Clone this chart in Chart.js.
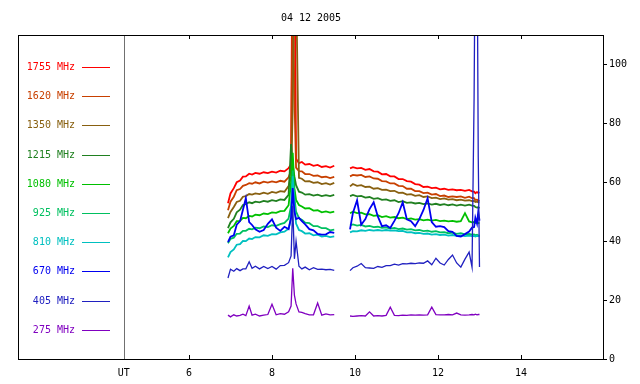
<!DOCTYPE html>
<html>
<head>
<meta charset="utf-8">
<script src="https://cdn.jsdelivr.net/npm/chart.js@4/dist/chart.umd.min.js"></script>
<style>
  html, body { margin: 0; padding: 0; background: #fff; }
  #wrap { width: 640px; height: 384px; }
</style>
</head>
<body>
<div id="wrap"><canvas id="radioChart" width="640" height="384"></canvas></div>
<script>
// tiempos (UT, horas) compartidos por todas las series; null = hueco
const times = [6.94, 7.0, 7.08, 7.15, 7.23, 7.3, 7.37, 7.45, 7.52, 7.6, 7.7, 7.8, 7.9, 8.0, 8.1, 8.2, 8.3, 8.4, 8.46, 8.5, 8.54, 8.58, 8.65, 8.72, 8.8, 8.9, 9.0, 9.1, 9.2, 9.3, 9.4, 9.5,
  9.7,
  9.88, 9.95, 10.05, 10.15, 10.25, 10.35, 10.45, 10.55, 10.65, 10.75, 10.85, 10.95, 11.05, 11.15, 11.25, 11.35, 11.45, 11.55, 11.65, 11.75, 11.85, 11.95, 12.05, 12.15, 12.25, 12.35, 12.45, 12.55, 12.65, 12.75, 12.82, 12.87, 12.9, 12.94, 12.97, 13.0];

const s1755 = [52.9, 56.2, 58.0, 60.0, 60.6, 61.9, 62.0, 62.9, 62.6, 63.2, 62.9, 63.4, 63.1, 63.6, 63.3, 63.9, 63.7, 64.8, 66, 160, 150, 68, 66.5, 66.9, 66.0, 66.2, 65.6, 65.9, 65.2, 65.5, 65.0, 65.6,
  null,
  64.7, 65.1, 64.7, 64.9, 64.2, 64.5, 63.7, 63.6, 62.7, 62.8, 62.0, 62.0, 61.1, 61.1, 60.4, 60.2, 59.4, 59.2, 58.4, 58.5, 58.0, 58.2, 57.6, 57.8, 57.4, 57.6, 57.3, 57.4, 57.1, 57.4, 56.9, 56.8, 56.3, 56.7, 56.4, 56.6];
const s1620 = [50.5, 53.4, 55.1, 57.3, 57.7, 58.8, 59.1, 59.7, 59.5, 60.0, 59.6, 60.2, 59.9, 60.3, 60.0, 60.5, 60.2, 61.7, 64, 130, 90, 65, 63.8, 63.7, 62.8, 62.8, 62.2, 62.3, 61.7, 61.9, 61.4, 61.8,
  null,
  62.0, 62.5, 62.3, 62.5, 61.8, 62.0, 61.3, 61.2, 60.4, 60.3, 59.6, 59.6, 58.8, 58.7, 57.8, 57.8, 57.0, 57.0, 56.3, 56.5, 55.8, 56.0, 55.3, 55.5, 55.0, 55.2, 55.0, 55.2, 54.7, 55.1, 54.6, 54.6, 54.0, 54.1, 53.8, 53.6];
const s1350 = [47.8, 49.9, 51.6, 53.3, 53.7, 55.1, 55.3, 56.0, 55.8, 56.2, 56.0, 56.5, 56.1, 56.7, 56.4, 57.0, 56.8, 58.7, 62, 85, 140, 130, 61.5, 61.2, 60.3, 60.4, 59.8, 60.0, 59.4, 59.7, 59.2, 59.8,
  null,
  58.6, 59.4, 58.8, 59.0, 58.4, 58.5, 57.8, 58.0, 57.4, 57.5, 57.0, 57.1, 56.4, 56.5, 55.8, 56.0, 55.4, 55.6, 55.0, 55.2, 54.6, 54.8, 54.3, 54.5, 54.1, 54.3, 53.9, 54.1, 53.8, 53.9, 53.6, 53.7, 53.3, 53.4, 53.2, 53.2];
const s1215 = [44.4, 46.4, 47.6, 49.8, 50.7, 52.3, 52.6, 53.2, 52.9, 53.4, 53.2, 53.7, 53.4, 53.9, 53.6, 54.2, 54.0, 55.7, 73, 66, 62, 59, 56.8, 56.5, 55.8, 56.0, 55.5, 55.8, 55.3, 55.6, 55.3, 55.7,
  null,
  55.3, 55.7, 55.2, 55.4, 54.8, 55.0, 54.4, 54.6, 54.0, 54.2, 53.7, 53.9, 53.3, 53.6, 53.0, 53.2, 52.8, 53.0, 52.6, 52.8, 52.4, 52.7, 52.3, 52.6, 52.2, 52.5, 52.1, 52.4, 52.1, 52.4, 52.1, 52.0, 51.6, 51.4, 51.5, 51.2];
const s1080 = [42.7, 44.3, 45.2, 46.8, 46.9, 47.9, 47.8, 48.6, 48.4, 49.0, 48.8, 49.4, 49.2, 49.8, 49.6, 50.2, 50.3, 52.2, 60, 70, 58, 54, 52.3, 51.8, 51.1, 51.2, 50.4, 50.5, 49.8, 50.1, 49.7, 50.0,
  null,
  49.5, 50.0, 49.5, 49.7, 49.1, 49.2, 48.6, 48.8, 48.2, 48.5, 48.0, 48.2, 47.8, 48.0, 47.5, 47.7, 47.3, 47.5, 47.1, 47.3, 47.0, 47.2, 46.8, 47.0, 46.7, 46.9, 46.6, 46.8, 49.5, 46.7, 46.4, 46.5, 46.2, 46.4, 46.1, 46.2];
const s925 = [39.3, 40.8, 41.2, 42.5, 42.6, 43.5, 43.5, 44.2, 44.0, 44.6, 44.4, 45.0, 44.8, 45.4, 45.2, 45.8, 46.2, 47.7, 52, 64, 55, 50, 47.8, 47.3, 46.3, 46.1, 45.1, 45.1, 44.4, 44.4, 43.7, 43.9,
  null,
  45.4, 45.7, 45.3, 45.5, 45.0, 45.2, 44.8, 44.9, 44.5, 44.7, 44.3, 44.5, 44.1, 44.3, 43.9, 44.1, 43.7, 43.8, 43.4, 43.6, 43.2, 43.4, 43.0, 43.1, 42.7, 42.9, 42.5, 42.7, 42.3, 42.5, 42.2, 42.3, 42.0, 42.2, 41.9, 42.0];
const s810 = [34.5, 36.3, 37.2, 38.8, 39.0, 40.1, 40.0, 40.9, 40.7, 41.4, 41.3, 42.0, 41.8, 42.4, 42.3, 43.0, 43.2, 44.2, 48, 62, 52, 46, 43.8, 43.4, 42.6, 42.7, 42.0, 42.2, 41.6, 41.8, 41.4, 41.6,
  null,
  43.0, 43.4, 43.3, 43.7, 43.5, 43.8, 43.6, 43.8, 43.6, 43.8, 43.6, 43.7, 43.4, 43.5, 43.0, 43.1, 42.7, 42.8, 42.5, 42.6, 42.2, 42.4, 42.1, 42.2, 41.9, 42.1, 41.8, 42.0, 41.7, 41.9, 41.7, 41.8, 41.6, 41.8, 41.7, 41.7];
const s670 = [39.7, 41.5, 42.0, 45.6, 46.8, 50.7, 54.6, 46.5, 45.5, 44.0, 43.2, 43.8, 45.9, 47.4, 44.6, 43.5, 44.9, 44.1, 48, 58, 50, 47.5, 47.9, 46.8, 45.7, 44.1, 43.7, 42.5, 42.2, 42.3, 43.1, 42.8,
  null,
  44.0, 49.6, 53.9, 45.6, 47.5, 50.9, 53.2, 48.4, 45.1, 45.4, 44.5, 46.9, 49.5, 53.2, 47.4, 46.8, 45.1, 47.5, 50.6, 54.6, 46.5, 44.9, 45.1, 44.8, 43.4, 43.2, 41.8, 41.6, 42.4, 43.3, 44.6, 44.8, 48.0, 46.0, 50.0, 47.0];
const s405 = [27.5, 30.5, 29.8, 30.7, 30.0, 30.6, 30.6, 33.0, 30.8, 31.5, 30.6, 31.4, 30.7, 31.4, 30.5, 31.7, 31.8, 32.7, 35, 52, 34, 40, 31.5, 30.6, 31.2, 30.3, 31.0, 30.4, 30.5, 30.3, 30.4, 30.1,
  null,
  30.0, 31.0, 31.5, 32.4, 31.0, 30.9, 30.8, 31.4, 31.1, 31.7, 31.7, 32.2, 31.9, 32.4, 32.3, 32.5, 32.4, 32.6, 32.5, 33.3, 32.0, 34.2, 32.6, 31.9, 33.8, 35.3, 32.6, 31.2, 33.9, 36.3, 31.2, 88.8, 150, 150, 68.5, 31.2];
const s275 = [14.9, 14.3, 15.0, 14.6, 14.8, 15.2, 14.7, 18.0, 14.9, 15.2, 14.6, 14.9, 15.1, 18.6, 15.0, 15.4, 15.2, 16.0, 18, 30.8, 21.7, 18.7, 16.0, 15.8, 15.4, 15.0, 15.0, 19.0, 14.9, 15.3, 15.0, 15.1,
  null,
  14.6, 14.5, 14.6, 14.7, 14.6, 16.0, 14.6, 14.7, 14.6, 14.8, 17.6, 14.8, 14.7, 14.9, 14.8, 15.0, 14.9, 15.0, 14.9, 15.0, 17.6, 15.1, 15.0, 15.0, 15.1, 15.0, 15.6, 15.0, 14.9, 15.0, 15.1, 15.0, 15.2, 15.0, 15.1, 15.1];

const seriesLabels = ['1755 MHz', '1620 MHz', '1350 MHz', '1215 MHz', '1080 MHz', '925 MHz', '810 MHz', '670 MHz', '405 MHz', '275 MHz'];
const seriesValues = [s1755, s1620, s1350, s1215, s1080, s925, s810, s670, s405, s275];
const seriesColors = ['#ff0000', '#c84000', '#886010', '#208020', '#00c000', '#00c060', '#00c0c0', '#0000f0', '#2020c0', '#8000c0'];

const chartTitle = '04 12 2005';
const xTickValues = [4.43, 6, 8, 10, 12, 14];
const xTickLabels = ['UT', '6', '8', '10', '12', '14'];
const yTickValues = [0, 20, 40, 60, 80, 100];

const FONT = "'DejaVu Sans Mono', 'Liberation Mono', monospace";

// marco, marcas interiores, linea UT, titulo y leyenda dentro del area
const framePlugin = {
  id: 'frame',
  beforeDatasetsDraw(chart) {
    const { ctx, chartArea: a, scales: { x } } = chart;
    const ux = Math.round(x.getPixelForValue(xTickValues[0])) + 0.5;
    ctx.save();
    ctx.strokeStyle = '#707070';
    ctx.lineWidth = 1;
    ctx.beginPath();
    ctx.moveTo(ux, a.top);
    ctx.lineTo(ux, a.bottom);
    ctx.stroke();
    ctx.restore();
  },
  afterDraw(chart) {
    const { ctx, chartArea: a, scales: { x } } = chart;
    ctx.save();
    ctx.strokeStyle = '#000';
    ctx.lineWidth = 1;
    ctx.strokeRect(Math.round(a.left) + 0.5, Math.round(a.top) + 0.5, Math.round(a.right - a.left) - 1, Math.round(a.bottom - a.top));
    ctx.beginPath();
    for (let i = 1; i < xTickValues.length; i++) {
      const px = Math.round(x.getPixelForValue(xTickValues[i])) + 0.5;
      ctx.moveTo(px, a.top);
      ctx.lineTo(px, a.top + 4);
      ctx.moveTo(px, a.bottom);
      ctx.lineTo(px, a.bottom - 4);
    }
    ctx.stroke();

    ctx.font = '10px ' + FONT;
    ctx.fillStyle = '#000';
    ctx.textAlign = 'center';
    ctx.textBaseline = 'middle';
    ctx.fillText(chartTitle, (a.left + a.right) / 2, 18);

    ctx.textAlign = 'right';
    seriesLabels.forEach((label, i) => {
      const y = Math.round(a.top + 32 + i * 29.2) + 0.5;
      ctx.fillStyle = seriesColors[i];
      ctx.fillText(label, a.left + 57, y);
      ctx.strokeStyle = seriesColors[i];
      ctx.lineWidth = 1;
      ctx.beginPath();
      ctx.moveTo(a.left + 64, y);
      ctx.lineTo(a.left + 92, y);
      ctx.stroke();
    });
    ctx.restore();
  }
};

const datasets = seriesValues.map((vals, i) => ({
  label: seriesLabels[i],
  data: times.map((t, j) => ({ x: t, y: vals[j] })),
  borderColor: seriesColors[i],
  borderWidth: i >= 8 ? 1.3 : 1.8,
  pointRadius: 0,
  tension: 0,
  spanGaps: false,
  fill: false
})).reverse(); // las frecuencias bajas quedan encima

new Chart(document.getElementById('radioChart').getContext('2d'), {
  type: 'line',
  data: { datasets: datasets },
  options: {
    responsive: false,
    animation: false,
    layout: { padding: { left: 18, right: 0, top: 35, bottom: 0 } },
    plugins: {
      legend: { display: false },
      tooltip: { enabled: false },
      title: { display: false }
    },
    scales: {
      x: {
        type: 'linear',
        min: 1.88,
        max: 16,
        afterBuildTicks: (scale) => { scale.ticks = xTickValues.map(v => ({ value: v })); },
        afterFit: (scale) => { scale.height = 25; },
        grid: { display: false, drawOnChartArea: false, drawTicks: false },
        border: { display: false },
        ticks: {
          color: '#000',
          padding: 8,
          maxRotation: 0,
          autoSkip: false,
          font: { family: FONT, size: 10 },
          callback: (value, index) => xTickLabels[index]
        }
      },
      y: {
        position: 'right',
        min: 0,
        max: 110,
        afterBuildTicks: (scale) => { scale.ticks = yTickValues.map(v => ({ value: v })); },
        afterFit: (scale) => { scale.width = 36; },
        grid: { drawOnChartArea: false, drawTicks: true, tickLength: 3, color: '#000' },
        border: { display: false },
        ticks: {
          color: '#000',
          padding: 2,
          font: { family: FONT, size: 10 }
        }
      }
    }
  },
  plugins: [framePlugin]
});
</script>
</body>
</html>
